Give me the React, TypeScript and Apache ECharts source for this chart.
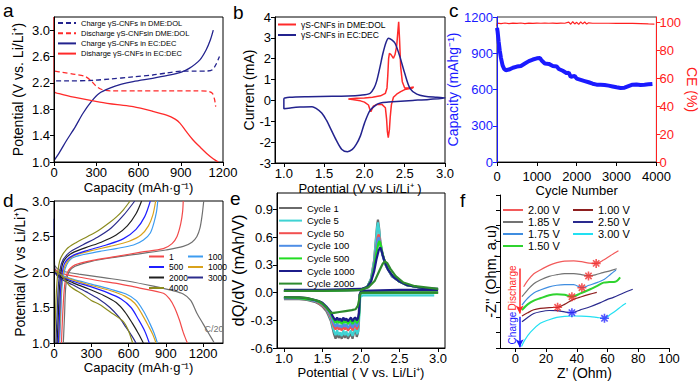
import React, { useEffect, useRef } from "react";
import * as echarts from "echarts";

const FONT = '"Liberation Sans", Arial, Helvetica, sans-serif';

// ---------- Panel a : charge / discharge profiles ----------
const aChargeDME = [[15,2.23],[100,2.23],[280,2.24],[400,2.26],[560,2.29],[700,2.32],[800,2.35],[920,2.38],[1000,2.38],[1080,2.38],[1125,2.4],[1150,2.48],[1175,2.6]];
const aDischargeDME = [[5,2.38],[60,2.36],[150,2.33],[220,2.3],[260,2.24],[300,2.15],[340,2.1],[400,2.08],[600,2.08],[800,2.08],[1000,2.08],[1100,2.07],[1125,2.04],[1140,1.95],[1148,1.84]];
const aChargeEC = [[3,1.03],[40,1.15],[90,1.33],[150,1.53],[206,1.74],[266,1.92],[320,2.04],[396,2.12],[480,2.18],[562,2.22],[700,2.27],[800,2.31],[900,2.36],[960,2.42],[1036,2.55],[1080,2.7],[1110,2.85],[1131,3.0]];
const aDischargeEC = [[0,3.2],[1,2.6],[3,2.07],[50,2.03],[150,1.98],[325,1.91],[450,1.87],[562,1.84],[700,1.77],[799,1.71],[860,1.65],[894,1.59],[940,1.46],[989,1.33],[1040,1.22],[1084,1.13],[1130,1.05],[1167,1.0]];
const aXTicks = [0, 300, 600, 900, 1200];
const aYTicks = [1.0, 1.4, 1.8, 2.2, 2.6, 3.0];

// ---------- Panel b : CV ----------
const bDME = [[1.8,0.07],[1.9,0.1],[2.0,0.12],[2.1,0.15],[2.2,0.22],[2.26,0.34],[2.28,0.6],[2.29,1.2],[2.3,2.0],[2.31,2.26],[2.33,2.2],[2.36,2.02],[2.38,2.2],[2.4,2.6],[2.415,3.3],[2.425,3.77],[2.435,3.0],[2.45,1.6],[2.47,0.9],[2.5,0.6],[2.55,0.6],[2.61,0.65],[2.6,0.6],[2.5,0.52],[2.45,0.42],[2.4,0.3],[2.36,0.15],[2.335,-0.2],[2.32,-0.8],[2.31,-1.4],[2.296,-1.79],[2.285,-1.5],[2.275,-0.9],[2.26,-0.35],[2.22,-0.2],[2.15,-0.2],[2.11,-0.28],[2.08,-0.54],[2.065,-0.4],[2.05,-0.22],[2.0,-0.08],[1.95,-0.02],[1.85,0.04],[1.8,0.07]];
const bEC = [[1.0,0.1],[1.07,0.15],[1.3,0.18],[1.6,0.2],[1.8,0.21],[1.95,0.25],[2.07,0.34],[2.12,0.6],[2.15,0.9],[2.19,1.55],[2.23,2.26],[2.27,2.8],[2.3,2.98],[2.34,2.9],[2.38,2.74],[2.44,2.1],[2.5,1.3],[2.565,0.58],[2.65,0.3],[2.75,0.2],[2.9,0.15],[3.0,0.12],[2.8,0.05],[2.6,0.0],[2.4,-0.05],[2.3,-0.08],[2.2,-0.12],[2.15,-0.2],[2.07,-0.48],[2.0,-1.1],[1.95,-1.7],[1.9,-2.1],[1.85,-2.35],[1.79,-2.46],[1.72,-2.35],[1.65,-1.9],[1.58,-1.35],[1.53,-0.96],[1.47,-0.6],[1.4,-0.38],[1.35,-0.3],[1.2,-0.32],[1.1,-0.35],[1.0,-0.4],[1.0,0.1]];
const bXTicks = [1.0, 1.5, 2.0, 2.5, 3.0];
const bYTicks = [-3, -2, -1, 0, 1, 2, 3, 4];

// ---------- Panel c : cycling ----------
const cCapacity = [[1,1110],[15,1080],[40,1000],[70,920],[100,860],[140,800],[180,770],[220,760],[300,765],[400,780],[500,790],[600,795],[700,815],[800,835],[900,848],[1000,858],[1080,860],[1120,840],[1200,815],[1300,812],[1400,795],[1500,790],[1550,770],[1650,755],[1750,735],[1800,740],[1850,705],[1950,712],[2000,690],[2100,680],[2200,670],[2300,660],[2400,648],[2500,640],[2600,640],[2700,638],[2800,632],[2900,625],[3000,618],[3100,612],[3200,615],[3300,628],[3400,640],[3500,642],[3600,638],[3700,640],[3800,643],[3900,646]];
const cCE = [[1,97.5],[10,99.6],[100,99.3],[200,99.7],[300,99.2],[400,99.6],[500,99.4],[600,99.7],[700,99.3],[800,99.6],[900,99.4],[1000,99.6],[1100,99.5],[1200,99.7],[1300,99.5],[1400,99.6],[1500,99.4],[1600,99.6],[1700,99.5],[1800,100.3],[1850,98.8],[1900,100.6],[1950,99.0],[2000,100.2],[2050,98.7],[2100,100.5],[2150,99.1],[2200,100.4],[2250,98.9],[2300,99.8],[2400,99.5],[2600,99.5],[2800,99.5],[3000,99.4],[3200,99.5],[3400,99.4],[3600,99.2],[3800,99.0],[3950,98.9]];
const cXTicks = [0, 1000, 2000, 3000, 4000];
const cYTicks = [0, 300, 600, 900, 1200];
const cY2Ticks = [0, 20, 40, 60, 80, 100];

// ---------- Panel d : rate / cycle profiles ----------
const dC20Charge = [[75,1.0],[85,1.4],[95,1.8],[120,2.0],[170,2.08],[300,2.15],[500,2.21],[700,2.26],[900,2.31],[1040,2.36],[1110,2.42],[1150,2.5],[1175,2.62],[1192,2.8],[1205,3.0]];
const dC20Discharge = [[0,2.1],[40,2.03],[100,2.0],[200,1.97],[400,1.92],[600,1.87],[800,1.8],[950,1.74],[1040,1.69],[1100,1.6],[1150,1.42],[1200,1.27],[1250,1.12],[1290,1.0]];
const d1Charge = [[60,1.0],[70,1.4],[85,1.8],[110,2.0],[170,2.1],[300,2.16],[505,2.22],[700,2.28],[880,2.33],[950,2.4],[990,2.5],[1020,2.68],[1035,2.85],[1040,3.0]];
const d1Discharge = [[0,2.05],[60,1.98],[200,1.93],[350,1.88],[505,1.84],[700,1.77],[880,1.7],[930,1.62],[970,1.5],[1010,1.32],[1040,1.15],[1073,1.0]];
const d100Charge = [[45,1.0],[55,1.4],[65,1.8],[90,2.05],[150,2.2],[370,2.29],[500,2.33],[640,2.38],[720,2.45],[775,2.55],[805,2.7],[825,2.85],[835,3.0]];
const d100Discharge = [[0,2.02],[50,1.96],[150,1.9],[300,1.83],[450,1.76],[580,1.69],[660,1.6],[720,1.45],[770,1.28],[805,1.14],[832,1.0]];
const d1000Charge = [[40,1.0],[50,1.4],[60,1.8],[85,2.07],[150,2.22],[300,2.3],[450,2.36],[600,2.43],[700,2.52],[760,2.65],[795,2.8],[818,3.0]];
const d1000Discharge = [[0,2.02],[50,1.95],[150,1.89],[300,1.81],[450,1.74],[570,1.66],[650,1.56],[710,1.4],[760,1.24],[795,1.12],[821,1.0]];
const d500Charge = [[35,1.0],[45,1.4],[55,1.8],[80,2.1],[140,2.22],[280,2.31],[420,2.38],[560,2.47],[660,2.6],[730,2.78],[775,3.0]];
const d500Discharge = [[0,2.0],[50,1.94],[150,1.87],[300,1.79],[430,1.71],[540,1.62],[620,1.5],[680,1.33],[730,1.17],[767,1.0]];
const d2000Charge = [[25,1.0],[35,1.4],[45,1.8],[70,2.12],[130,2.25],[250,2.34],[380,2.42],[500,2.52],[590,2.65],[660,2.82],[705,3.0]];
const d2000Discharge = [[0,2.0],[50,1.93],[150,1.85],[280,1.76],[400,1.67],[500,1.57],[570,1.44],[630,1.28],[680,1.13],[719,1.0]];
const d3000Charge = [[15,1.0],[25,1.4],[35,1.8],[60,2.12],[120,2.27],[230,2.38],[350,2.49],[460,2.62],[560,2.8],[650,3.0]];
const d3000Discharge = [[0,2.75],[3,2.2],[10,2.0],[50,1.91],[150,1.82],[260,1.72],[360,1.62],[450,1.5],[520,1.37],[580,1.22],[630,1.09],[660,1.0]];
const d4000Charge = [[5,1.0],[12,1.4],[22,1.8],[45,2.15],[100,2.32],[183,2.42],[270,2.5],[370,2.6],[450,2.7],[505,2.78],[560,2.88],[612,3.0]];
const d4000Discharge = [[0,2.02],[62,1.95],[129,1.8],[236,1.68],[300,1.6],[370,1.54],[450,1.44],[558,1.3],[600,1.17],[633,1.0]];
const dXTicks = [0, 300, 600, 900, 1200];
const dYTicks = [1.0, 1.5, 2.0, 2.5, 3.0];

// ---------- Panel e : dQ/dV ----------
const e1Dis = [[3.0,0.0],[2.5,0.0],[2.0,0.0],[1.98,-0.02],[1.97,-0.36],[1.96,-0.44],[1.945,-0.48],[1.93,-0.41],[1.91,-0.43],[1.89,-0.5],[1.87,-0.44],[1.85,-0.47],[1.83,-0.5],[1.81,-0.45],[1.79,-0.49],[1.77,-0.44],[1.75,-0.5],[1.73,-0.46],[1.71,-0.49],[1.69,-0.44],[1.67,-0.5],[1.65,-0.45],[1.63,-0.38],[1.61,-0.31],[1.58,-0.25],[1.55,-0.2],[1.5,-0.15],[1.45,-0.12],[1.4,-0.1],[1.3,-0.08],[1.2,-0.07],[1.0,-0.07]];
const e1Chg = [[1.0,0.02],[1.5,0.02],[2.0,0.03],[2.08,0.06],[2.13,0.15],[2.17,0.35],[2.195,0.6],[2.21,0.74],[2.22,0.79],[2.235,0.7],[2.25,0.56],[2.28,0.42],[2.32,0.3],[2.4,0.18],[2.5,0.12],[2.6,0.08],[2.8,0.05],[3.0,0.03]];
const e5Dis = [[2.95,-0.03],[2.5,-0.03],[2.02,-0.03],[1.99,-0.05],[1.975,-0.3],[1.965,-0.42],[1.95,-0.45],[1.93,-0.39],[1.91,-0.42],[1.89,-0.47],[1.87,-0.41],[1.85,-0.44],[1.83,-0.47],[1.81,-0.42],[1.79,-0.46],[1.77,-0.41],[1.75,-0.47],[1.73,-0.43],[1.71,-0.46],[1.69,-0.41],[1.67,-0.46],[1.65,-0.42],[1.63,-0.35],[1.61,-0.29],[1.58,-0.23],[1.55,-0.18],[1.5,-0.14],[1.45,-0.11],[1.4,-0.09],[1.3,-0.07],[1.2,-0.06],[1.0,-0.06]];
const e5Chg = [[1.0,0.02],[1.5,0.02],[2.0,0.03],[2.08,0.06],[2.13,0.15],[2.17,0.34],[2.195,0.58],[2.21,0.71],[2.22,0.76],[2.235,0.68],[2.25,0.55],[2.28,0.41],[2.32,0.3],[2.4,0.18],[2.5,0.12],[2.6,0.08],[2.8,0.05],[3.0,0.03]];
const e50Dis = [[3.0,0.0],[2.5,0.0],[2.0,0.0],[1.98,-0.03],[1.97,-0.3],[1.96,-0.37],[1.945,-0.4],[1.93,-0.35],[1.91,-0.37],[1.89,-0.41],[1.87,-0.36],[1.85,-0.39],[1.83,-0.41],[1.81,-0.37],[1.79,-0.4],[1.77,-0.36],[1.75,-0.41],[1.73,-0.38],[1.71,-0.4],[1.69,-0.36],[1.67,-0.4],[1.65,-0.37],[1.63,-0.32],[1.61,-0.27],[1.58,-0.22],[1.55,-0.18],[1.5,-0.14],[1.45,-0.11],[1.4,-0.09],[1.3,-0.07],[1.2,-0.06],[1.0,-0.06]];
const e50Chg = [[1.0,0.02],[1.5,0.02],[2.0,0.03],[2.08,0.06],[2.13,0.14],[2.17,0.3],[2.2,0.5],[2.215,0.6],[2.23,0.63],[2.245,0.57],[2.26,0.48],[2.29,0.38],[2.33,0.28],[2.4,0.18],[2.5,0.12],[2.6,0.08],[2.8,0.05],[3.0,0.03]];
const e100Dis = [[3.0,0.0],[2.5,0.0],[2.0,0.0],[1.98,-0.03],[1.97,-0.28],[1.96,-0.34],[1.945,-0.37],[1.93,-0.32],[1.91,-0.34],[1.89,-0.38],[1.87,-0.33],[1.85,-0.36],[1.83,-0.38],[1.81,-0.34],[1.79,-0.37],[1.77,-0.33],[1.75,-0.38],[1.73,-0.35],[1.71,-0.37],[1.69,-0.33],[1.67,-0.37],[1.65,-0.34],[1.63,-0.3],[1.61,-0.25],[1.58,-0.21],[1.55,-0.17],[1.5,-0.13],[1.45,-0.1],[1.4,-0.09],[1.3,-0.07],[1.2,-0.06],[1.0,-0.06]];
const e100Chg = [[1.0,0.02],[1.5,0.02],[2.0,0.03],[2.08,0.06],[2.13,0.14],[2.17,0.29],[2.2,0.48],[2.215,0.57],[2.23,0.6],[2.245,0.55],[2.26,0.47],[2.29,0.37],[2.33,0.28],[2.4,0.18],[2.5,0.12],[2.6,0.08],[2.8,0.05],[3.0,0.03]];
const e500Dis = [[3.0,0.0],[2.5,0.0],[2.0,0.0],[1.985,-0.02],[1.975,-0.25],[1.96,-0.31],[1.945,-0.33],[1.93,-0.29],[1.91,-0.31],[1.89,-0.34],[1.87,-0.3],[1.85,-0.32],[1.83,-0.34],[1.81,-0.3],[1.79,-0.33],[1.77,-0.3],[1.75,-0.34],[1.73,-0.31],[1.71,-0.33],[1.69,-0.3],[1.67,-0.33],[1.65,-0.3],[1.63,-0.27],[1.61,-0.23],[1.58,-0.19],[1.55,-0.16],[1.5,-0.12],[1.45,-0.1],[1.4,-0.08],[1.3,-0.07],[1.2,-0.06],[1.0,-0.05]];
const e500Chg = [[1.0,0.02],[1.5,0.02],[2.0,0.03],[2.08,0.06],[2.13,0.13],[2.17,0.27],[2.2,0.43],[2.225,0.53],[2.24,0.56],[2.255,0.52],[2.27,0.45],[2.3,0.36],[2.34,0.27],[2.4,0.19],[2.5,0.12],[2.6,0.08],[2.8,0.05],[3.0,0.03]];
const e1000Dis = [[3.0,0.03],[2.5,0.03],[2.0,0.02],[1.985,-0.02],[1.975,-0.22],[1.96,-0.28],[1.945,-0.3],[1.93,-0.27],[1.91,-0.28],[1.89,-0.31],[1.87,-0.27],[1.85,-0.29],[1.83,-0.31],[1.81,-0.28],[1.79,-0.3],[1.77,-0.27],[1.75,-0.31],[1.73,-0.28],[1.71,-0.3],[1.69,-0.27],[1.67,-0.3],[1.65,-0.28],[1.63,-0.25],[1.61,-0.21],[1.58,-0.18],[1.55,-0.15],[1.5,-0.11],[1.45,-0.09],[1.4,-0.08],[1.3,-0.06],[1.2,-0.05],[1.0,-0.05]];
const e1000Chg = [[1.0,0.03],[1.5,0.03],[2.0,0.04],[2.08,0.06],[2.13,0.12],[2.17,0.23],[2.2,0.36],[2.23,0.46],[2.25,0.49],[2.265,0.46],[2.28,0.41],[2.31,0.33],[2.35,0.25],[2.42,0.17],[2.5,0.12],[2.6,0.08],[2.8,0.05],[3.0,0.04]];
const e2000Dis = [[3.0,0.0],[2.5,0.0],[2.0,0.0],[1.99,-0.02],[1.975,-0.08],[1.96,-0.14],[1.93,-0.18],[1.88,-0.19],[1.8,-0.2],[1.72,-0.21],[1.65,-0.22],[1.61,-0.22],[1.58,-0.19],[1.55,-0.16],[1.5,-0.12],[1.45,-0.09],[1.4,-0.08],[1.3,-0.06],[1.2,-0.05],[1.0,-0.05]];
const e2000Chg = [[1.0,0.02],[1.5,0.02],[2.0,0.03],[2.1,0.06],[2.18,0.13],[2.24,0.24],[2.28,0.31],[2.31,0.34],[2.34,0.32],[2.38,0.26],[2.45,0.18],[2.55,0.11],[2.7,0.07],[3.0,0.04]];
const eXTicks = [1.0, 1.5, 2.0, 2.5, 3.0];
const eYTicks = [-0.6, -0.3, 0.0, 0.3, 0.6, 0.9];

// ---------- Panel f : Nyquist (offset, a.u.) ----------
const f200 = [[5.4,40],[8,44],[12,48.5],[16.2,51],[22,54],[27,55.8],[32,56.8],[38,56.9],[43,56.4],[48,55.5],[52.6,55.3],[57.4,57.5],[62,60.5],[67.1,63.6]];
const f185 = [[4.3,33.5],[8,38],[12,42],[16.2,44.4],[22,46.8],[27,47.9],[32,48.6],[38,48.6],[43,48],[47.6,47.1],[52,47.8],[57,49.3],[62,50.6],[66,51.8]];
const f175 = [[4.3,28.1],[8,32.5],[12,36],[16.2,37.9],[22,40],[27,41],[32,41.4],[37.9,41.4],[43.3,39.4],[48,41],[53,42.7],[58,45],[62,48.2],[65.5,51]];
const f150 = [[4.3,24.8],[8,28.5],[12,31],[16.2,32.5],[22,34.5],[27,35.1],[32,34.8],[36.8,33.5],[42,35.5],[48.7,38.4],[53,40.5],[57.4,42.7],[61,43.1],[65,43.3],[68.2,46.2]];
const f100 = [[4.3,20.9],[8,23],[12,25],[16.2,25.9],[22,26.4],[27.5,26.6],[32,28.5],[37.9,31.8],[43,33.5],[48,35],[53,36.4]];
const f250 = [[4.3,17.2],[8,20],[12,22.5],[16.2,23.7],[22,24.5],[27,24.4],[32,23.6],[36.8,23.1],[42,24.8],[48.7,27],[55,29.5],[60,31.8],[63.8,33.1],[70,35.8],[76.4,38.4]];
const f300 = [[4,1],[6,5],[10,10.5],[16.2,16.1],[22,18.5],[27,20],[32,20.7],[37.9,20.9],[43,20.8],[48.7,20.5],[53,20],[58,19.4],[62,22],[66,24.8],[69,27.2],[72,29.2]];
const fRedStars = [[52.6,55.3],[47.6,47.1],[43.3,39.4],[36.8,33.5],[27.5,26.6]];
const fBlueStars = [[36.8,23.1],[58,19.4]];
const fDischargeArrow = [[2.8,52],[2.8,22.5]];
const fChargeArrow = [[2.8,20.5],[2.8,0.5]];
const fXTicks = [0, 20, 40, 60, 80, 100];
const fYTicks = [0, 10, 20, 30, 40, 50, 60, 70, 80, 90, 100];

function mkAxis(p: any) {
  const color = p.color || "#000";
  return {
    type: "value",
    gridIndex: p.grid,
    position: p.position,
    min: p.min,
    max: p.max,
    name: p.name,
    nameLocation: "middle",
    nameGap: p.nameGap,
    nameRotate: p.nameRotate,
    nameTextStyle: { fontFamily: FONT, fontSize: p.nameSize || 13, color },
    axisLine: { show: true, onZero: false, lineStyle: { color, width: 1 } },
    axisTick: { show: true, inside: false, length: 4, customValues: p.ticks, lineStyle: { color, width: 1 } },
    axisLabel: {
      show: p.labels !== false,
      customValues: p.ticks,
      margin: p.margin ?? 4,
      fontFamily: FONT,
      fontSize: p.labelSize || 13,
      color,
      formatter: (v: number) => Number(v).toFixed(p.dec || 0),
    },
    splitLine: { show: false },
    minorTick: { show: false },
    z: 5,
  };
}

function ln(name: string, data: number[][], color: string, idx: number, yIdx: number, width = 1.2, extra: any = {}) {
  return {
    type: "line",
    name,
    data,
    xAxisIndex: idx,
    yAxisIndex: yIdx,
    symbol: "none",
    showSymbol: false,
    smooth: false,
    lineStyle: { color, width },
    itemStyle: { color },
    emphasis: { disabled: true },
    silent: true,
    ...extra,
  };
}

const legendText = (size: number) => ({ fontFamily: FONT, fontSize: size, color: "#000" });
const legendCommon = {
  orient: "vertical",
  padding: 0,
  selectedMode: false,
  itemStyle: { opacity: 0, borderWidth: 0 },
};

function buildOption(): any {
  const navy = "#23238e";
  const red = "#ff2a2a";
  const sm = { smooth: 0.3 };

  const cRed = "#ff2020";
  const cBlue = "#1a1aff";

  const dCol: Record<string, string> = {
    "C/20": "#707070", "1": "#f24a4a", "100": "#3d9cf0", "500": "#1f1fff",
    "1000": "#d9a21b", "2000": "#202020", "3000": "#2c2c8c", "4000": "#8b8b1e",
  };
  const eCol: Record<string, string> = {
    "Cycle 1": "#6a6a6a", "Cycle 5": "#3fd3d3", "Cycle 50": "#f25050", "Cycle 100": "#4f8ee6",
    "Cycle 500": "#22dd22", "Cycle 1000": "#1c1c8a", "Cycle 2000": "#2e8b2e",
  };
  const fCol: Record<string, string> = {
    "2.00 V": "#f25a5a", "1.85 V": "#737373", "1.75 V": "#3f8de0", "1.50 V": "#2fd32f",
    "1.00 V": "#8e1f1f", "2.50 V": "#2a2a8e", "3.00 V": "#22e0f2",
  };

  const starPath = "path://M5,0L5,10M0,5L10,5M1.5,1.5L8.5,8.5M1.5,8.5L8.5,1.5";

  const series: any[] = [
    // a
    ln("Charge γS-CNFs in DME:DOL", aChargeDME, navy, 0, 0, 1.3, { ...sm, lineStyle: { color: navy, width: 1.3, type: [5, 3] } }),
    ln("Discharge γS-CNFsin DME:DOL", aDischargeDME, red, 0, 0, 1.3, { ...sm, lineStyle: { color: red, width: 1.3, type: [5, 3] } }),
    ln("Charge γS-CNFs in EC:DEC", aChargeEC, navy, 0, 0, 1.3, sm),
    ln("Disharge γS-CNFs in EC:DEC", aDischargeEC, red, 0, 0, 1.3, sm),
    // b
    ln("γS-CNFs in DME:DOL", bDME, "#ff2a2a", 1, 1, 1.5),
    ln("γS-CNFs in EC:DEC", bEC, navy, 1, 1, 1.5, sm),
    // c
    ln("Capacity", cCapacity, cBlue, 2, 2, 4),
    ln("CE", cCE, cRed, 2, 3, 1.2),
  ];

  // d
  const dSets: [string, number[][], number[][]][] = [
    ["C/20", dC20Charge, dC20Discharge],
    ["1", d1Charge, d1Discharge],
    ["100", d100Charge, d100Discharge],
    ["1000", d1000Charge, d1000Discharge],
    ["500", d500Charge, d500Discharge],
    ["2000", d2000Charge, d2000Discharge],
    ["3000", d3000Charge, d3000Discharge],
    ["4000", d4000Charge, d4000Discharge],
  ];
  dSets.forEach(([n, c, dd]) => {
    series.push(ln(n, c, dCol[n], 3, 4, 1.2, sm));
    series.push(ln(n, dd, dCol[n], 3, 4, 1.2, sm));
  });

  // e
  const eSets: [string, number[][], number[][]][] = [
    ["Cycle 1", e1Dis, e1Chg],
    ["Cycle 5", e5Dis, e5Chg],
    ["Cycle 50", e50Dis, e50Chg],
    ["Cycle 100", e100Dis, e100Chg],
    ["Cycle 500", e500Dis, e500Chg],
    ["Cycle 1000", e1000Dis, e1000Chg],
    ["Cycle 2000", e2000Dis, e2000Chg],
  ];
  eSets.forEach(([n, dd, c]) => {
    series.push(ln(n, dd, eCol[n], 4, 5, 2.2));
    series.push(ln(n, c, eCol[n], 4, 5, 2.2));
  });

  // f
  const fSets: [string, number[][]][] = [
    ["2.00 V", f200], ["1.85 V", f185], ["1.75 V", f175], ["1.50 V", f150],
    ["1.00 V", f100], ["2.50 V", f250], ["3.00 V", f300],
  ];
  fSets.forEach(([n, dd]) => {
    series.push(ln(n, dd, fCol[n], 5, 6, n === "1.50 V" ? 2 : 1.2, sm));
  });
  series.push({
    type: "scatter",
    name: "redStars",
    xAxisIndex: 5,
    yAxisIndex: 6,
    data: fRedStars,
    symbol: starPath,
    symbolSize: 9,
    itemStyle: { color: "transparent", borderColor: "#f03030", borderWidth: 1.6 },
    silent: true,
    z: 4,
    markLine: {
      silent: true,
      symbol: ["none", "arrow"],
      symbolSize: [6, 8],
      label: { show: false },
      data: [
        [{ coord: fDischargeArrow[0], lineStyle: { color: "#ff2a2a", width: 1.5, type: "solid" } }, { coord: fDischargeArrow[1] }],
        [{ coord: fChargeArrow[0], lineStyle: { color: "#1a1aff", width: 1.5, type: "solid" } }, { coord: fChargeArrow[1] }],
      ],
    },
  });
  series.push({
    type: "scatter",
    name: "blueStars",
    xAxisIndex: 5,
    yAxisIndex: 6,
    data: fBlueStars,
    symbol: starPath,
    symbolSize: 9,
    itemStyle: { color: "transparent", borderColor: "#2a2aff", borderWidth: 1.6 },
    silent: true,
    z: 4,
  });

  const gridBase = { show: true, borderColor: "#000", borderWidth: 1, backgroundColor: "transparent", containLabel: false };

  const letter = (t: string, x: number, y: number) => ({
    type: "text",
    x,
    y,
    style: { text: t, fill: "#000", font: `19px ${FONT}`, textAlign: "left", textVerticalAlign: "top" },
    silent: true,
  });

  return {
    animation: false,
    backgroundColor: "#fff",
    textStyle: { fontFamily: FONT },
    grid: [
      { ...gridBase, left: 54, top: 17, width: 169, height: 145 },
      { ...gridBase, left: 275, top: 17, width: 170, height: 146 },
      { ...gridBase, left: 497, top: 17, width: 169, height: 145, borderColor: "#333" },
      { ...gridBase, left: 54, top: 201, width: 169, height: 142 },
      { ...gridBase, left: 277, top: 193, width: 168, height: 155 },
      { left: 500, top: 195, width: 169, height: 153, show: false },
    ],
    xAxis: [
      mkAxis({ grid: 0, min: 0, max: 1200, ticks: aXTicks, name: "Capacity (mAh·g⁻¹)", nameGap: 19, dec: 0 }),
      mkAxis({ grid: 1, min: 0.89, max: 3.0, ticks: bXTicks, name: "Potential (V vs Li/Li⁺ )", nameGap: 19, dec: 1 }),
      mkAxis({ grid: 2, min: 0, max: 4000, ticks: cXTicks, name: "Cycle Number", nameGap: 20, dec: 0, margin: 8 }),
      mkAxis({ grid: 3, min: 0, max: 1360, ticks: dXTicks, name: "Capacity (mAh·g⁻¹)", nameGap: 18, dec: 0 }),
      mkAxis({ grid: 4, min: 0.91, max: 3.09, ticks: eXTicks, name: "Potential ( V vs. Li/Li⁺)", nameGap: 17, dec: 1 }),
      mkAxis({ grid: 5, min: -10, max: 100, ticks: fXTicks, name: "Z' (Ohm)", nameGap: 16, dec: 0, nameSize: 14 }),
    ],
    yAxis: [
      mkAxis({ grid: 0, min: 1.0, max: 3.2, ticks: aYTicks, name: "Potential (V vs. Li/Li⁺)", nameGap: 29, dec: 1, nameSize: 14 }),
      mkAxis({ grid: 1, min: -3, max: 4, ticks: bYTicks, name: "Current (mA)", nameGap: 13, dec: 0, nameSize: 14 }),
      mkAxis({ grid: 2, min: 0, max: 1200, ticks: cYTicks, name: "Capacity (mAhg⁻¹)", nameGap: 29, dec: 0, color: "#1a1aff", nameSize: 14 }),
      mkAxis({ grid: 2, position: "right", min: 0, max: 104, ticks: cY2Ticks, name: "CE (%)", nameGap: 19, nameRotate: -90, dec: 0, color: "#ff2020", nameSize: 14, margin: 3 }),
      mkAxis({ grid: 3, min: 1.0, max: 3.0, ticks: dYTicks, name: "Potential (V vs Li/Li⁺)", nameGap: 27, dec: 1, nameSize: 14 }),
      mkAxis({ grid: 4, min: -0.6, max: 1.08, ticks: eYTicks, name: "dQ/dV (mAh/V)", nameGap: 28, dec: 1, nameSize: 16.5 }),
      mkAxis({ grid: 5, min: 0, max: 100, ticks: fYTicks, name: "-Z'' (Ohm, a.u)", nameGap: 2, labels: false, nameSize: 14.5 }),
    ],
    legend: [
      {
        ...legendCommon,
        data: ["Charge γS-CNFs in DME:DOL", "Discharge γS-CNFsin DME:DOL", "Charge γS-CNFs in EC:DEC", "Disharge γS-CNFs in EC:DEC"],
        left: 57, top: 19, itemWidth: 18, itemHeight: 8, itemGap: 2.2,
        textStyle: legendText(7.5),
      },
      {
        ...legendCommon,
        data: ["γS-CNFs in DME:DOL", "γS-CNFs in EC:DEC"],
        left: 277, top: 20, itemWidth: 18, itemHeight: 9, itemGap: 1.5,
        textStyle: legendText(8.5),
      },
      {
        ...legendCommon,
        data: ["1", "500", "2000", "4000"],
        left: 148, top: 252, itemWidth: 15, itemHeight: 9, itemGap: 1.5,
        textStyle: legendText(8.5),
      },
      {
        ...legendCommon,
        data: ["100", "1000", "3000"],
        left: 187, top: 252, itemWidth: 15, itemHeight: 9, itemGap: 1.5,
        textStyle: legendText(8.5),
      },
      {
        ...legendCommon,
        data: ["Cycle 1", "Cycle 5", "Cycle 50", "Cycle 100", "Cycle 500", "Cycle 1000", "Cycle 2000"],
        left: 278, top: 203, itemWidth: 23, itemHeight: 10, itemGap: 2.6,
        textStyle: legendText(9.5),
      },
      {
        ...legendCommon,
        data: ["2.00 V", "1.85 V", "1.75 V", "1.50 V"],
        left: 502, top: 204.5, itemWidth: 20, itemHeight: 10, itemGap: 1,
        textStyle: legendText(11),
      },
      {
        ...legendCommon,
        data: ["1.00 V", "2.50 V", "3.00 V"],
        left: 572, top: 204.5, itemWidth: 20, itemHeight: 10, itemGap: 1,
        textStyle: legendText(11),
      },
    ],
    graphic: [
      letter("a", 3, 1),
      letter("b", 233, 3),
      letter("c", 449, 1),
      letter("d", 3, 191),
      letter("e", 230, 189),
      letter("f", 460, 191),
      {
        type: "text", x: 214, y: 329,
        style: { text: "C/20", fill: "#707070", font: `9px ${FONT}`, textAlign: "center", textVerticalAlign: "middle" },
        silent: true,
      },
      {
        type: "text", x: 512, y: 288, rotation: Math.PI / 2,
        style: { text: "Discharge", fill: "#ff2a2a", font: `10px ${FONT}`, textAlign: "center", textVerticalAlign: "middle" },
        silent: true,
      },
      {
        type: "text", x: 512, y: 328, rotation: Math.PI / 2,
        style: { text: "Charge", fill: "#1a1aff", font: `10px ${FONT}`, textAlign: "center", textVerticalAlign: "middle" },
        silent: true,
      },
    ],
    series,
  };
}

export default function App() {
  const ref = useRef<HTMLDivElement>(null);
  useEffect(() => {
    if (!ref.current) return;
    const chart = echarts.init(ref.current, null, { renderer: "svg" });
    chart.setOption(buildOption());
    return () => chart.dispose();
  }, []);
  return (
    <div
      ref={ref}
      style={{ position: "absolute", left: 0, top: 0, width: 700, height: 381, background: "#fff" }}
    />
  );
}
